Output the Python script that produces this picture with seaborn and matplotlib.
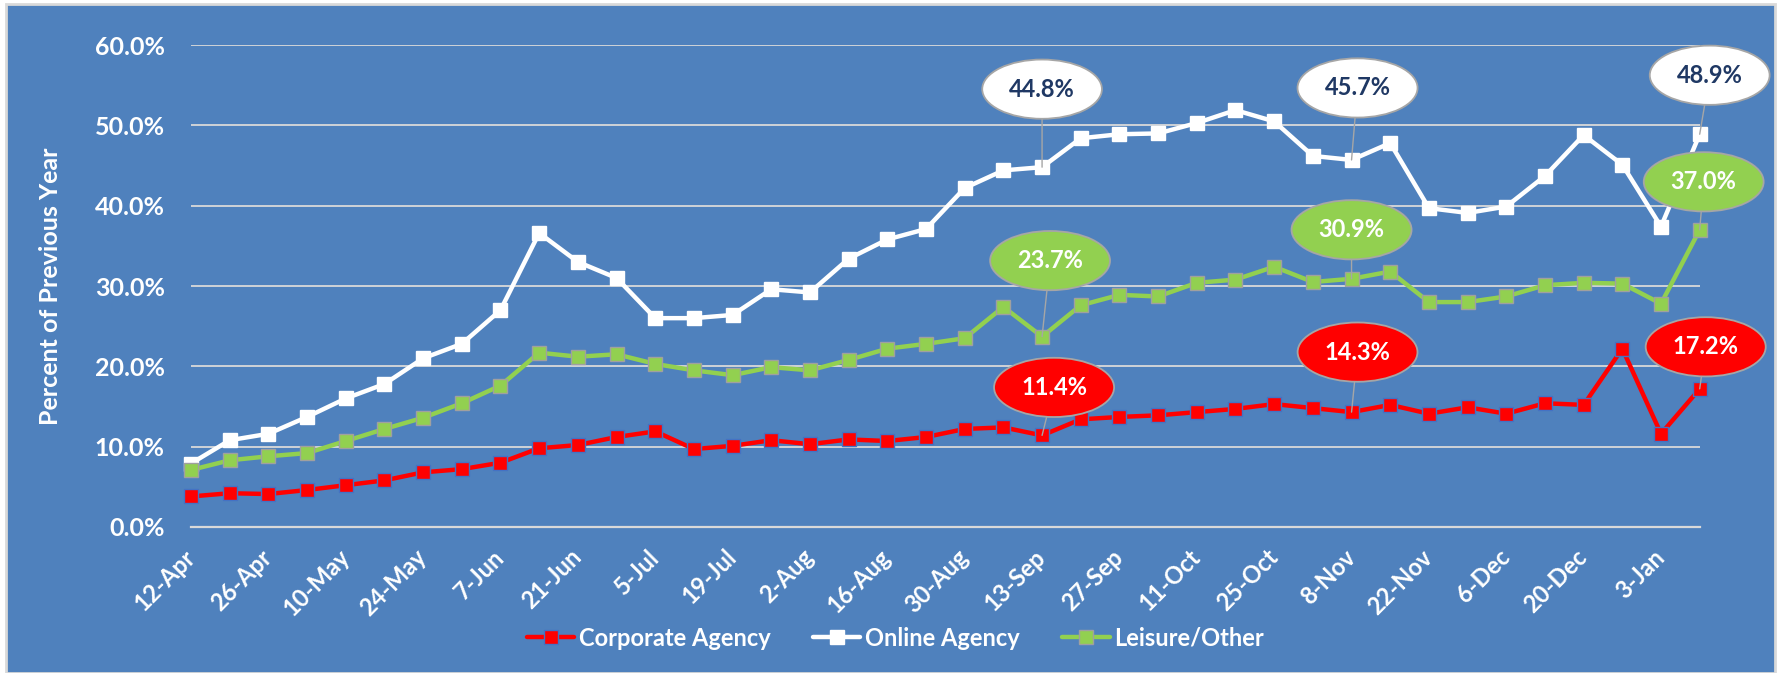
import numpy as np
import pandas as pd
import matplotlib
matplotlib.use('Agg')
import matplotlib.pyplot as plt
import matplotlib.patches as mpatches
import seaborn as sns

# ------------------------------------------------------------
# data (percent of previous year, weekly)
# ------------------------------------------------------------
weeks = ['12-Apr', '19-Apr', '26-Apr', '3-May', '10-May', '17-May', '24-May', '31-May',
         '7-Jun', '14-Jun', '21-Jun', '28-Jun', '5-Jul', '12-Jul', '19-Jul', '26-Jul',
         '2-Aug', '9-Aug', '16-Aug', '23-Aug', '30-Aug', '6-Sep', '13-Sep', '20-Sep',
         '27-Sep', '4-Oct', '11-Oct', '18-Oct', '25-Oct', '1-Nov', '8-Nov', '15-Nov',
         '22-Nov', '29-Nov', '6-Dec', '13-Dec', '20-Dec', '27-Dec', '3-Jan', '10-Jan']

corporate = [3.8, 4.2, 4.1, 4.6, 5.2, 5.8, 6.8, 7.2, 8.0, 9.8,
             10.2, 11.2, 11.9, 9.7, 10.1, 10.8, 10.3, 10.9, 10.7, 11.2,
             12.2, 12.4, 11.4, 13.4, 13.7, 13.9, 14.3, 14.7, 15.3, 14.8,
             14.3, 15.2, 14.1, 14.9, 14.1, 15.4, 15.2, 22.2, 11.6, 17.2]

online = [7.9, 10.8, 11.6, 13.7, 16.0, 17.8, 21.0, 22.8, 27.0, 36.6,
          33.0, 31.0, 26.0, 26.0, 26.4, 29.6, 29.2, 33.4, 35.8, 37.1,
          42.2, 44.4, 44.8, 48.4, 48.9, 49.0, 50.3, 51.9, 50.5, 46.2,
          45.7, 47.8, 39.7, 39.1, 39.9, 43.7, 48.8, 45.1, 37.4, 48.9]

leisure = [7.1, 8.3, 8.8, 9.2, 10.7, 12.2, 13.6, 15.4, 17.6, 21.7,
           21.2, 21.5, 20.3, 19.5, 18.9, 19.9, 19.5, 20.8, 22.2, 22.8,
           23.5, 27.4, 23.7, 27.6, 28.9, 28.7, 30.4, 30.8, 32.4, 30.5,
           30.9, 31.8, 28.0, 28.0, 28.7, 30.1, 30.4, 30.3, 27.8, 37.0]

tick_labels = weeks[::2]
callout_weeks = ['13-Sep', '8-Nov', '10-Jan']

BG = '#4F81BD'
GRID = '#D9D9D9'

sns.set_theme(style='white')
plt.rcParams['font.family'] = ['Lato', 'DejaVu Sans']
plt.rcParams['font.weight'] = 'bold'

df = pd.DataFrame({'week': weeks, 'corporate': corporate,
                   'online': online, 'leisure': leisure})
df['pos'] = np.arange(len(weeks))

fig = plt.figure(figsize=(17.77, 6.73), dpi=100, facecolor='white')
fig.patches.append(mpatches.Rectangle((6 / 1777, 0), 1769 / 1777, 1 - 4 / 673,
                                      transform=fig.transFigure, facecolor=BG,
                                      edgecolor=GRID, lw=2, zorder=-10))
ax = fig.add_axes([0.1075, 0.217, 0.849, 0.716])
ax.set_facecolor(BG)

series = [
    ('corporate', 'Corporate Agency', '#FF0000', '#4472C4'),
    ('online', 'Online Agency', '#FFFFFF', '#FFFFFF'),
    ('leisure', 'Leisure/Other', '#92D050', '#A0A0A0'),
]
for col, name, c, ec in series:
    sns.lineplot(data=df, x='pos', y=col, ax=ax, color=c, lw=3.2, marker='s',
                 markersize=10.5, markeredgecolor=ec, markeredgewidth=1.0,
                 label=name, clip_on=False, zorder=3)

ax.set_xlim(0, len(weeks) - 1)
ax.set_ylim(0, 60)
ax.set_yticks(np.arange(0, 61, 10))
ax.set_yticklabels([f'{v:.1f}%' for v in np.arange(0, 61, 10)],
                   color='white', fontsize=18, fontweight='bold')
ax.set_xticks(np.arange(0, len(weeks), 2))
ax.set_xticklabels(tick_labels, rotation=45, ha='right', va='center',
                   rotation_mode='anchor', color='white', fontsize=17,
                   fontweight='bold')
ax.tick_params(axis='x', length=7, width=1.5, color=GRID, direction='out', pad=12)
ax.tick_params(axis='y', length=0, pad=19)
ax.yaxis.grid(True, color=GRID, lw=1.3)
ax.xaxis.grid(False)
ax.set_axisbelow(True)
for s in ['left', 'top', 'right']:
    ax.spines[s].set_visible(False)
ax.spines['bottom'].set_color(GRID)
ax.spines['bottom'].set_linewidth(1.6)
ax.set_xlabel('')
ax.set_ylabel('Percent of Previous Year', color='white', fontsize=18,
              fontweight='bold')
ax.yaxis.set_label_coords(-0.0855, 0.5)

# callouts
styles = {
    'online': dict(fc='#FFFFFF', tc='#1F3864'),
    'leisure': dict(fc='#92D050', tc='white'),
    'corporate': dict(fc='#FF0000', tc='white'),
}
offsets = {
    ('online', '13-Sep'): (0, 78), ('leisure', '13-Sep'): (8, 76),
    ('corporate', '13-Sep'): (12, 48),
    ('online', '8-Nov'): (6, 72), ('leisure', '8-Nov'): (0, 49),
    ('corporate', '8-Nov'): (6, 60),
    ('online', '10-Jan'): (10, 59), ('leisure', '10-Jan'): (4, 48),
    ('corporate', '10-Jan'): (6, 42),
}
for wk in callout_weeks:
    i = weeks.index(wk)
    for col in ['online', 'leisure', 'corporate']:
        val = df[col][i]
        st = styles[col]
        ax.annotate(f'{val:.1f}%', xy=(i, val), xytext=offsets[(col, wk)],
                    textcoords='offset pixels', ha='center', va='center',
                    fontsize=17, fontweight='bold', color=st['tc'],
                    bbox=dict(boxstyle='ellipse,pad=0.4', fc=st['fc'],
                              ec='#A6A6A6', lw=1.3),
                    arrowprops=dict(arrowstyle='-', color='#A6A6A6', lw=1,
                                    shrinkA=0, shrinkB=0),
                    annotation_clip=False, zorder=5)

leg = ax.legend(loc='center', bbox_to_anchor=(0.504, 0.052),
                bbox_transform=fig.transFigure, ncol=3, frameon=False,
                fontsize=17, handlelength=2.0, columnspacing=1.8,
                handletextpad=0.2)
for t in leg.get_texts():
    t.set_color('white')
    t.set_fontweight('bold')

fig.savefig('out.png', dpi=100, facecolor=fig.get_facecolor())
